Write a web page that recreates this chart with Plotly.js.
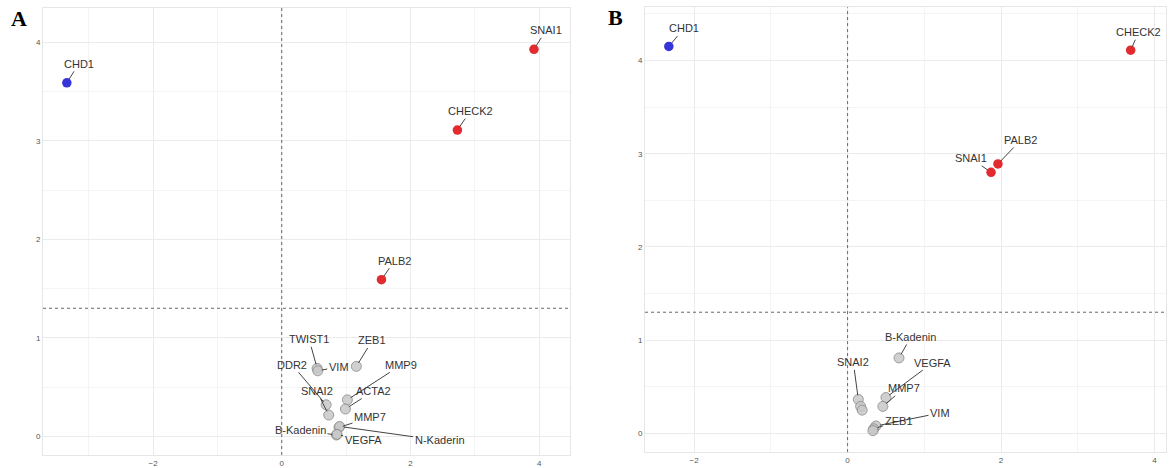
<!DOCTYPE html>
<html>
<head>
<meta charset="utf-8">
<script src="https://cdn.plot.ly/plotly-3.0.1.min.js"></script>
<style>
  html, body { margin: 0; padding: 0; background: #fff; }
  #chart { width: 1169px; height: 468px; }
</style>
</head>
<body>
<div id="chart"></div>
<script>
// Panel A: gene, log2 fold change, -log10 p, regulation group
const genesA = ['CHD1', 'SNAI1', 'CHECK2', 'PALB2', 'TWIST1', 'VIM', 'ZEB1', 'DDR2', 'MMP9',
                'SNAI2', 'ACTA2', 'MMP7', 'N-Kaderin', 'B-Kadenin', 'VEGFA'];
const log2fcA = [-3.34, 3.92, 2.73, 1.55, 0.55, 0.56, 1.16, 0.69, 1.02,
                 0.73, 0.99, 0.89, 0.90, 0.85, 0.86];
const negLogPA = [3.59, 3.93, 3.11, 1.59, 0.69, 0.665, 0.71, 0.32, 0.37,
                  0.216, 0.277, 0.09, 0.10, 0.013, 0.02];
const groupA = ['down', 'up', 'up', 'up', 'ns', 'ns', 'ns', 'ns', 'ns',
                'ns', 'ns', 'ns', 'ns', 'ns', 'ns'];

// Panel B
const genesB = ['CHD1', 'CHECK2', 'PALB2', 'SNAI1', 'B-Kadenin', 'VEGFA', 'MMP7', 'SNAI2',
                'TWIST1', 'DDR2', 'VIM', 'ZEB1', 'MMP9'];
const log2fcB = [-2.33, 3.69, 1.96, 1.87, 0.67, 0.50, 0.46, 0.14,
                 0.17, 0.19, 0.37, 0.34, 0.33];
const negLogPB = [4.15, 4.11, 2.89, 2.80, 0.81, 0.385, 0.29, 0.365,
                  0.29, 0.25, 0.08, 0.05, 0.03];
const groupB = ['down', 'up', 'up', 'up', 'ns', 'ns', 'ns', 'ns',
                'ns', 'ns', 'ns', 'ns', 'ns'];

const pThreshold = 1.3;   // -log10(0.05)
const fcThreshold = 0;

// Label placement (pixel offset of the label from its point); genes without an entry stay unlabeled
const labelOffsetA = {
  'CHD1': [12, -19], 'SNAI1': [12, -19], 'CHECK2': [13, -19], 'PALB2': [13, -19],
  'TWIST1': [-8, -29], 'VIM': [21, -4], 'ZEB1': [16, -26], 'DDR2': [-34, -40],
  'MMP9': [54, -35], 'SNAI2': [-12, -24], 'ACTA2': [28, -18], 'MMP7': [31, -10],
  'N-Kaderin': [100, 14], 'B-Kadenin': [-36, -5], 'VEGFA': [26, 6]
};
const labelOffsetB = {
  'CHD1': [15, -18], 'CHECK2': [8, -18], 'PALB2': [23, -24], 'SNAI1': [-20, -14],
  'B-Kadenin': [12, -21], 'VEGFA': [47, -35], 'MMP7': [21, -18], 'SNAI2': [-5, -37],
  'VIM': [64, -13], 'ZEB1': [25, -8]
};

const fillColor = { up: '#e12b2e', down: '#3535d9', ns: '#c8c8c8' };
const edgeColor = { up: '#e12b2e', down: '#3535d9', ns: '#8c8c8c' };
const FONT = 'Liberation Sans, Arial, sans-serif';

function pointTrace(genes, fc, p, grp, xa, ya) {
  // grey points first so coloured ones sit on top
  const order = genes.map((g, i) => i).sort((a, b) => (grp[a] === 'ns' ? 0 : 1) - (grp[b] === 'ns' ? 0 : 1));
  return {
    type: 'scatter', mode: 'markers',
    x: order.map(i => fc[i]), y: order.map(i => p[i]), text: order.map(i => genes[i]),
    xaxis: xa, yaxis: ya, hoverinfo: 'text',
    marker: {
      size: order.map(i => grp[i] === 'ns' ? 10 : 9.5),
      color: order.map(i => fillColor[grp[i]]),
      opacity: order.map(i => grp[i] === 'ns' ? 0.85 : 1),
      line: { width: order.map(i => grp[i] === 'ns' ? 1 : 0), color: order.map(i => edgeColor[grp[i]]) }
    },
    showlegend: false
  };
}

function labels(genes, fc, p, offsets, xref, yref) {
  const out = [];
  genes.forEach((g, i) => {
    const off = offsets[g];
    if (!off) return;
    out.push({
      x: fc[i], y: p[i], xref: xref, yref: yref, text: g,
      showarrow: true, arrowhead: 0, arrowwidth: 1, arrowcolor: '#444', standoff: 4,
      ax: off[0], ay: off[1],
      font: { family: FONT, size: 11, color: '#333' }
    });
  });
  return out;
}

function axisBase(extra) {
  return Object.assign({
    showgrid: true, gridcolor: '#ebebeb', gridwidth: 1,
    zeroline: false, showline: true, mirror: true, linecolor: '#e6e6e6', linewidth: 1,
    ticks: '', tickfont: { family: FONT, size: 8, color: '#555' },
    tick0: 0
  }, extra);
}

const traces = [
  pointTrace(genesA, log2fcA, negLogPA, groupA, 'x', 'y'),
  pointTrace(genesB, log2fcB, negLogPB, groupB, 'x2', 'y2')
];

function refLines(xref, yref) {
  const dash = { color: '#666', width: 1, dash: 'dot' };
  return [
    { type: 'line', xref: xref, yref: yref + ' domain', x0: fcThreshold, x1: fcThreshold, y0: 0, y1: 1, line: dash },
    { type: 'line', xref: xref + ' domain', yref: yref, x0: 0, x1: 1, y0: pThreshold, y1: pThreshold, line: dash }
  ];
}

const layout = {
  width: 1169, height: 468,
  margin: { l: 0, r: 0, t: 0, b: 0 },
  paper_bgcolor: '#fff', plot_bgcolor: '#fff',
  xaxis: axisBase({ domain: [0.0368, 0.4876], range: [-3.71, 4.48], dtick: 2,
    minor: { dtick: 1, showgrid: true, gridcolor: '#f4f4f4', ticks: '' }, anchor: 'y' }),
  yaxis: axisBase({ domain: [0.0278, 0.983], range: [-0.19, 4.35], dtick: 1,
    minor: { dtick: 0.5, showgrid: true, gridcolor: '#f4f4f4', ticks: '' }, anchor: 'x' }),
  xaxis2: axisBase({ domain: [0.5518, 0.9974], range: [-2.64, 4.15], dtick: 2,
    minor: { dtick: 1, showgrid: true, gridcolor: '#f4f4f4', ticks: '' }, anchor: 'y2' }),
  yaxis2: axisBase({ domain: [0.034, 0.9844], range: [-0.2, 4.57], dtick: 1,
    minor: { dtick: 0.5, showgrid: true, gridcolor: '#f4f4f4', ticks: '' }, anchor: 'x2' }),
  shapes: refLines('x', 'y').concat(refLines('x2', 'y2')),
  annotations: labels(genesA, log2fcA, negLogPA, labelOffsetA, 'x', 'y')
    .concat(labels(genesB, log2fcB, negLogPB, labelOffsetB, 'x2', 'y2'))
    .concat([
      { xref: 'paper', yref: 'paper', x: 9 / 1169, y: 1 - 19 / 468, xanchor: 'left', yanchor: 'middle',
        text: '<b>A</b>', showarrow: false, font: { family: 'Liberation Serif, Times New Roman, serif', size: 22, color: '#000' } },
      { xref: 'paper', yref: 'paper', x: 606 / 1169, y: 1 - 18 / 468, xanchor: 'left', yanchor: 'middle',
        text: '<b>B</b>', showarrow: false, font: { family: 'Liberation Serif, Times New Roman, serif', size: 22, color: '#000' } }
    ])
};

Plotly.newPlot('chart', traces, layout, { staticPlot: true, displayModeBar: false });
</script>
</body>
</html>
